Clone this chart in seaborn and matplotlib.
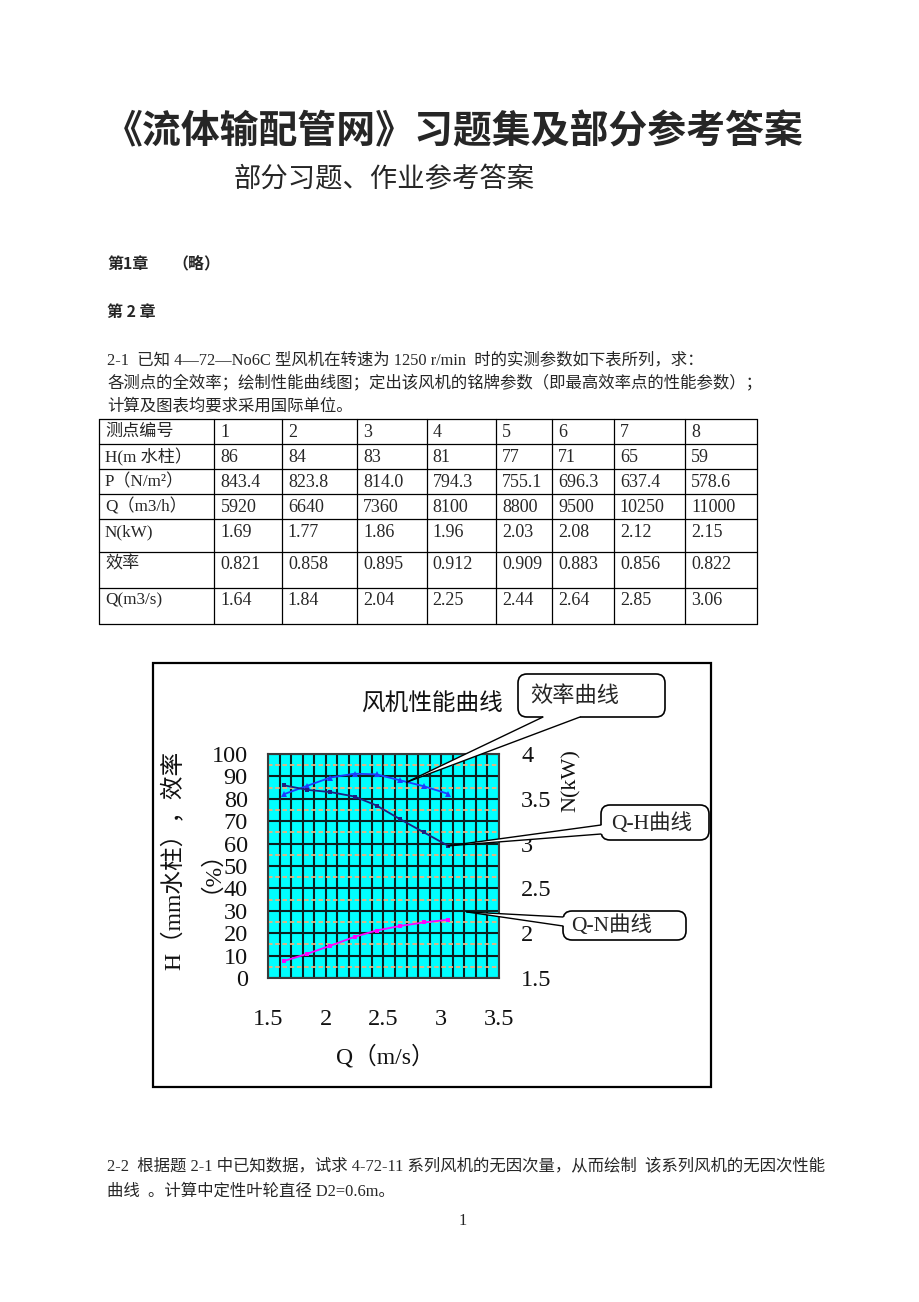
import numpy as np
import pandas as pd
import matplotlib
matplotlib.use("Agg")
import matplotlib.pyplot as plt
import seaborn as sns
from matplotlib.patches import FancyBboxPatch, Polygon
from matplotlib.lines import Line2D
from matplotlib.ticker import FixedLocator, FuncFormatter

# ---------------- data ----------------
point_ids = [1, 2, 3, 4, 5, 6, 7, 8]
head_m = [86, 84, 83, 81, 77, 71, 65, 59]
pressure_pa = [843.4, 823.8, 814.0, 794.3, 755.1, 696.3, 637.4, 578.6]
flow_m3h = [5920, 6640, 7360, 8100, 8800, 9500, 10250, 11000]
power_kw = [1.69, 1.77, 1.86, 1.96, 2.03, 2.08, 2.12, 2.15]
efficiency = [0.821, 0.858, 0.895, 0.912, 0.909, 0.883, 0.856, 0.822]
flow_m3s = [1.64, 1.84, 2.04, 2.25, 2.44, 2.64, 2.85, 3.06]

row_labels = ["测点编号", "H(m 水柱）", "P（N/m²）", "Q（m3/h）", "N(kW)", "效率", "Q(m3/s)"]
x_ticks = [1.5, 2, 2.5, 3, 3.5]
left_ticks = [0, 10, 20, 30, 40, 50, 60, 70, 80, 90, 100]
right_ticks = [1.5, 2, 2.5, 3, 3.5, 4]

df = pd.DataFrame({"Q": flow_m3s, "H": head_m, "N": power_kw,
                   "eff_pct": [e * 100 for e in efficiency]})

# ---------------- style ----------------
sns.set_theme(style="white")
SERIF = ["Liberation Serif", "Noto Sans CJK SC"]
CJK = ["Noto Sans CJK SC", "DejaVu Sans"]
plt.rcParams["font.family"] = SERIF

W, H = 920, 1302
fig = plt.figure(figsize=(W / 100, H / 100), dpi=100)
fig.patch.set_facecolor("white")

# page layer (pixel coordinates, origin top-left)
page = fig.add_axes([0, 0, 1, 1], zorder=0)
page.set_xlim(0, W)
page.set_ylim(H, 0)
page.axis("off")

page.text(454, 132, "《流体输配管网》习题集及部分参考答案", family=CJK, fontsize=28,
          fontweight="bold", ha="center", va="center")
page.text(234, 180, "部分习题、作业参考答案", family=CJK, fontsize=19.7, ha="left", va="center")
page.text(107, 264, "第1章", family=CJK, fontsize=11.5, fontweight="bold", ha="left", va="center")
page.text(172, 264, "（略）", family=CJK, fontsize=11.5, fontweight="bold", ha="left", va="center")
page.text(107, 312, "第 2 章", family=CJK, fontsize=11.5, fontweight="bold", ha="left", va="center")

para = ["2-1  已知 4—72—No6C 型风机在转速为 1250 r/min  时的实测参数如下表所列，求：",
        "各测点的全效率；绘制性能曲线图；定出该风机的铭牌参数（即最高效率点的性能参数）；",
        "计算及图表均要求采用国际单位。"]
for i, line in enumerate(para):
    page.text(107, 360 + 23 * i, line, family=SERIF, fontsize=11.8, ha="left", va="center")

# table
col_x = [99, 214.4, 281.9, 357.1, 426.7, 495.9, 551.9, 613.9, 685.2, 757]
row_y = [419.3, 444.3, 469.3, 494.3, 519.3, 551.7, 587.7, 624]
for yy in row_y:
    page.add_line(Line2D([col_x[0], col_x[-1]], [yy, yy], color="black", lw=0.9))
for xx in col_x:
    page.add_line(Line2D([xx, xx], [row_y[0], row_y[-1]], color="black", lw=0.9))

table_rows = [
    [str(v) for v in point_ids],
    [str(v) for v in head_m],
    [f"{v:.1f}" for v in pressure_pa],
    [str(v) for v in flow_m3h],
    [f"{v:.2f}" for v in power_kw],
    [f"{v:.3f}" for v in efficiency],
    [f"{v:.2f}" for v in flow_m3s],
]
for r, (lab, vals) in enumerate(zip(row_labels, table_rows)):
    ty = row_y[r] + 13
    page.text(col_x[0] + 6, ty, lab, family=SERIF, fontsize=12.3, ha="left", va="center")
    for c, v in enumerate(vals):
        page.text(col_x[c + 1] + 6, ty, v, family=SERIF, fontsize=13, ha="left", va="center")

# chart frame and title
page.add_patch(plt.Rectangle((153, 663), 558, 424, fill=False, ec="black", lw=1.6))
page.text(432, 704, "风机性能曲线", family=CJK, fontsize=17, ha="center", va="center", color="#111111")

# bottom paragraph
page.text(107, 1167, "2-2  根据题 2-1 中已知数据，试求 4-72-11 系列风机的无因次量，从而绘制  该系列风机的无因次性能",
          family=SERIF, fontsize=11.8, ha="left", va="center")
page.text(107, 1192, "曲线  。计算中定性叶轮直径 D2=0.6m。", family=SERIF, fontsize=11.8, ha="left", va="center")
page.text(463, 1221, "1", family=SERIF, fontsize=11.8, ha="center", va="center")

# ---------------- chart ----------------
px_l, px_r, px_t, px_b = 268, 499, 754, 978
ax = fig.add_axes([px_l / W, 1 - px_b / H, (px_r - px_l) / W, (px_b - px_t) / H], zorder=1)
ax.set_facecolor("#00FFFF")
ax.set_xlim(1.5, 3.5)
ax.set_ylim(0, 100)

dark = "#0b1f1f"
ax.xaxis.set_major_locator(FixedLocator(x_ticks))
ax.xaxis.set_minor_locator(FixedLocator(np.arange(1.5, 3.5001, 0.1)))
ax.yaxis.set_major_locator(FixedLocator(left_ticks))
ax.yaxis.set_minor_locator(FixedLocator(np.arange(5, 100, 10)))
ax.set_axisbelow(True)
ax.grid(which="major", color=dark, lw=1.5)
ax.grid(which="minor", axis="x", color=dark, lw=1.5)
ax.grid(which="minor", axis="y", color="#EDB27C", lw=1.3, ls=(0, (2.5, 1.5)))

sns.lineplot(data=df, x="Q", y="eff_pct", ax=ax, color="#1E3CFF", marker="^",
             markersize=4, markeredgewidth=0, linewidth=1.3)
sns.lineplot(data=df, x="Q", y="H", ax=ax, color="#1F1F80", marker="s",
             markersize=3.5, markeredgewidth=0, linewidth=1.3)

fmt = FuncFormatter(lambda v, p: f"{v:g}")
ax.xaxis.set_major_formatter(fmt)
ax.yaxis.set_major_formatter(fmt)
ax.tick_params(which="both", length=0)
ax.tick_params(axis="y", pad=14.5, labelsize=17.5, labelcolor="#111111")
ax.tick_params(axis="x", pad=22, labelsize=17.5, labelcolor="#111111")
for sp in ax.spines.values():
    sp.set_color("#3a3a3a")
    sp.set_linewidth(1.5)

ax.set_ylabel("H（mm水柱），效率\n（%）", fontsize=17, color="#111111",
              linespacing=1.2, multialignment="center")
ax.yaxis.label.set_va("center")
ax.yaxis.label.set_ha("center")
ax.yaxis.set_label_coords((186 - px_l) / (px_r - px_l), (px_b - 860) / (px_b - px_t))

ax2 = ax.twinx()
ax2.set_ylim(1.5, 4)
sns.lineplot(data=df, x="Q", y="N", ax=ax2, color="#FF00FF", marker="s",
             markersize=3.5, markeredgewidth=0, linewidth=1.3)
ax2.yaxis.set_major_locator(FixedLocator(right_ticks))
ax2.yaxis.set_major_formatter(fmt)
ax2.grid(False)
ax2.tick_params(which="both", length=0)
ax2.tick_params(axis="y", pad=16, labelsize=17.5, labelcolor="#111111")
for sp in ax2.spines.values():
    sp.set_visible(False)
ax2.set_ylabel("N(kW)", fontsize=16, rotation=90, color="#111111")
ax2.yaxis.label.set_va("center")
ax2.yaxis.label.set_ha("center")
ax2.yaxis.set_label_coords((571 - px_l) / (px_r - px_l), (px_b - 781) / (px_b - px_t))
ax2.set_xlabel("")

ax.set_xlabel("Q（m/s）", fontsize=17, color="#111111")
ax.xaxis.label.set_va("center")
ax.xaxis.set_label_coords((385 - px_l) / (px_r - px_l), (px_b - 1057) / (px_b - px_t))

# ---------------- callouts (overlay) ----------------
over = fig.add_axes([0, 0, 1, 1], zorder=10)
over.set_xlim(0, W)
over.set_ylim(H, 0)
over.axis("off")
over.patch.set_alpha(0)


def to_page(axis, x, y):
    dx, dy = axis.transData.transform((x, y))
    return dx, H - dy


def callout(box, text, tx, ty, fam, fs, base1, base2, inward, tip):
    x0, y0, x1, y1 = box
    over.add_patch(FancyBboxPatch((x0, y0), x1 - x0, y1 - y0,
                                  boxstyle="round,pad=0,rounding_size=9",
                                  fc="white", ec="black", lw=1.2, zorder=3))
    ix, iy = inward
    poly = [base1, tip, base2, (base2[0] + ix, base2[1] + iy), (base1[0] + ix, base1[1] + iy)]
    over.add_patch(Polygon(poly, closed=True, fc="white", ec="none", zorder=4))
    for b in (base1, base2):
        over.add_line(Line2D([b[0], tip[0]], [b[1], tip[1]], color="black", lw=1.0, zorder=5))
    over.text(tx, ty, text, family=fam, fontsize=fs, ha="left", va="center", zorder=6)


callout((518, 674, 665, 717), "效率曲线", 530, 695, CJK, 16,
        (543, 717), (580, 717), (0, -3), to_page(ax, 2.7, 87.4))
callout((601, 805, 709, 840), "Q-H曲线", 611, 824, SERIF, 15.5,
        (601, 825), (601, 834), (3, 0), to_page(ax, flow_m3s[-1], head_m[-1]))
callout((563, 911, 686, 940), "Q-N曲线", 571, 926, SERIF, 15.5,
        (563, 917), (563, 926), (3, 0), to_page(ax, 3.22, 29.5))

fig.savefig("out.png", dpi=100, facecolor="white")
